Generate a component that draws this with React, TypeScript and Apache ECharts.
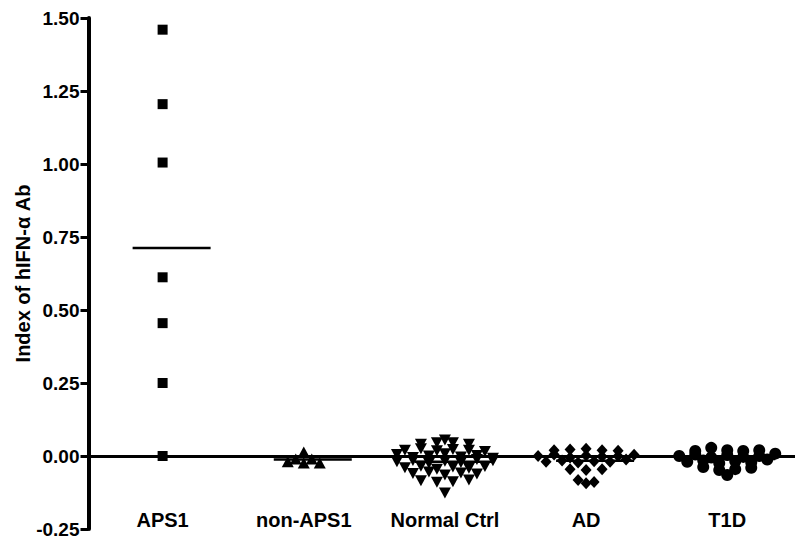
import React, { useEffect, useRef } from 'react';
import * as echarts from 'echarts';

const categories = ['APS1', 'non-APS1', 'Normal Ctrl', 'AD', 'T1D'];
const yTickLabels = ['-0.25', '0.00', '0.25', '0.50', '0.75', '1.00', '1.25', '1.50'];
const yAxisTitle = 'Index of hIFN-α Ab';

const aps1 = [1.46, 1.205, 1.005, 0.612, 0.455, 0.25, 0.0];
const nonAps1 = [-0.01, -0.02, -0.024, 0.014, -0.024, -0.01];
const normalCtrl = [
  0.04, 0.045, 0.055, 0.045, 0.04,
  0.02, 0.025, 0.018, 0.022, 0.02, 0.015,
  0.005, -0.005, 0.0, 0.008, -0.003, 0.002, -0.008,
  -0.02, -0.015, -0.025, -0.018, -0.022, -0.012, -0.016,
  -0.04, -0.035, -0.045, -0.038, -0.042, -0.036,
  -0.06, -0.055, -0.065, -0.058, -0.062,
  -0.085, -0.09, -0.088, -0.082,
  -0.127,
];
const ad = [
  0.02, 0.022, 0.025, 0.02, 0.018,
  0.0, 0.005, -0.005, 0.002, -0.002, 0.0, 0.004,
  -0.02, -0.015, -0.022, -0.018, -0.02, -0.012,
  -0.045, -0.048, -0.045,
  -0.082, -0.093, -0.089,
];
const t1d = [
  0.017, 0.028, 0.02, 0.017, 0.02,
  0.0, 0.005, -0.005, 0.003, -0.003, 0.0, 0.008,
  -0.02, -0.015, -0.025, -0.018, -0.022, -0.012,
  -0.038, -0.048, -0.045, -0.04,
  -0.065,
];

const groups = [aps1, nonAps1, normalCtrl, ad, t1d];
const symbols = ['rect', 'triangle', 'triangle', 'diamond', 'circle'];
const symbolSizes: any[] = [10, [12, 11], [12, 11], [11, 12], 12];
const symbolRotates = [0, 0, 180, 0, 0];

const X_MIN = 0.475;
const X_MAX = 5.48;
const GRID_LEFT = 88.5;
const GRID_RIGHT = 5;
const PLOT_W = 800 - GRID_LEFT - GRID_RIGHT;
const PX_PER_UNIT = PLOT_W / (X_MAX - X_MIN);
const SLOT_PX = 16;
const BIN = 0.02;

function swarm(values: number[], cat: number) {
  const bins = new Map<number, number[]>();
  values.forEach((v) => {
    const k = Math.round(v / BIN);
    if (!bins.has(k)) bins.set(k, []);
    bins.get(k)!.push(v);
  });
  const out: number[][] = [];
  bins.forEach((list) => {
    const n = list.length;
    list.forEach((v, i) => {
      out.push([cat + ((i - (n - 1) / 2) * SLOT_PX) / PX_PER_UNIT, v]);
    });
  });
  return out;
}

const mean = (a: number[]) => a.reduce((s, v) => s + v, 0) / a.length;

export default function App() {
  const ref = useRef<HTMLDivElement>(null);
  useEffect(() => {
    if (!ref.current) return;
    const chart = echarts.init(ref.current, null, { renderer: 'svg' });
    const font = { fontFamily: 'Liberation Sans, Arial, sans-serif', fontWeight: 'bold' as const, color: '#000' };
    const scatterSeries = groups.map((vals, gi) => ({
      type: 'scatter',
      data: swarm(vals, gi + 1),
      symbol: symbols[gi],
      symbolSize: symbolSizes[gi],
      symbolRotate: symbolRotates[gi],
      itemStyle: { color: '#000', opacity: 1 },
      z: 3,
    }));
    const meanSeries = {
      type: 'custom',
      data: groups.map((vals, gi) => [gi + 1, mean(vals)]),
      renderItem: (_params: any, api: any) => {
        const p = api.coord([api.value(0), api.value(1)]);
        return {
          type: 'line',
          shape: { x1: p[0] - 30, y1: p[1], x2: p[0] + 48, y2: p[1] },
          style: { stroke: '#000', lineWidth: 2.5 },
        };
      },
      markLine: {
        silent: true,
        symbol: ['none', 'none'],
        label: { show: false },
        lineStyle: { color: '#000', width: 3, type: 'solid' },
        data: [{ yAxis: 0 }],
      },
      z: 2,
    };
    chart.setOption({
      animation: false,
      backgroundColor: '#fff',
      grid: { left: GRID_LEFT, right: GRID_RIGHT, top: 18, bottom: 17, containLabel: false, outerBoundsMode: 'none' },
      xAxis: {
        type: 'value',
        min: X_MIN,
        max: X_MAX,
        splitLine: { show: false },
        axisLine: { show: false, onZero: false },
        axisTick: { show: false },
        axisLabel: {
          customValues: [1, 2, 3, 4, 5],
          formatter: (v: number) => categories[Math.round(v) - 1] ?? '',
          margin: -19,
          fontSize: 20,
          ...font,
        },
      },
      yAxis: {
        type: 'value',
        min: -0.25,
        max: 1.5,
        interval: 0.25,
        splitLine: { show: false },
        axisLine: { show: true, onZero: false, lineStyle: { color: '#000', width: 4 } },
        axisTick: { show: true, length: 8, lineStyle: { color: '#000', width: 3 } },
        axisLabel: {
          formatter: (v: number) => yTickLabels[Math.round((v + 0.25) / 0.25)] ?? '',
          margin: 9,
          fontSize: 19,
          ...font,
        },
        name: yAxisTitle,
        nameLocation: 'middle',
        nameGap: 56,
        nameMoveOverlap: false,
        nameTextStyle: { fontSize: 20, ...font },
      },
      series: [meanSeries, ...scatterSeries],
    });
    return () => chart.dispose();
  }, []);
  return <div ref={ref} style={{ position: 'absolute', left: 0, top: 0, width: 800, height: 546 }} />;
}
